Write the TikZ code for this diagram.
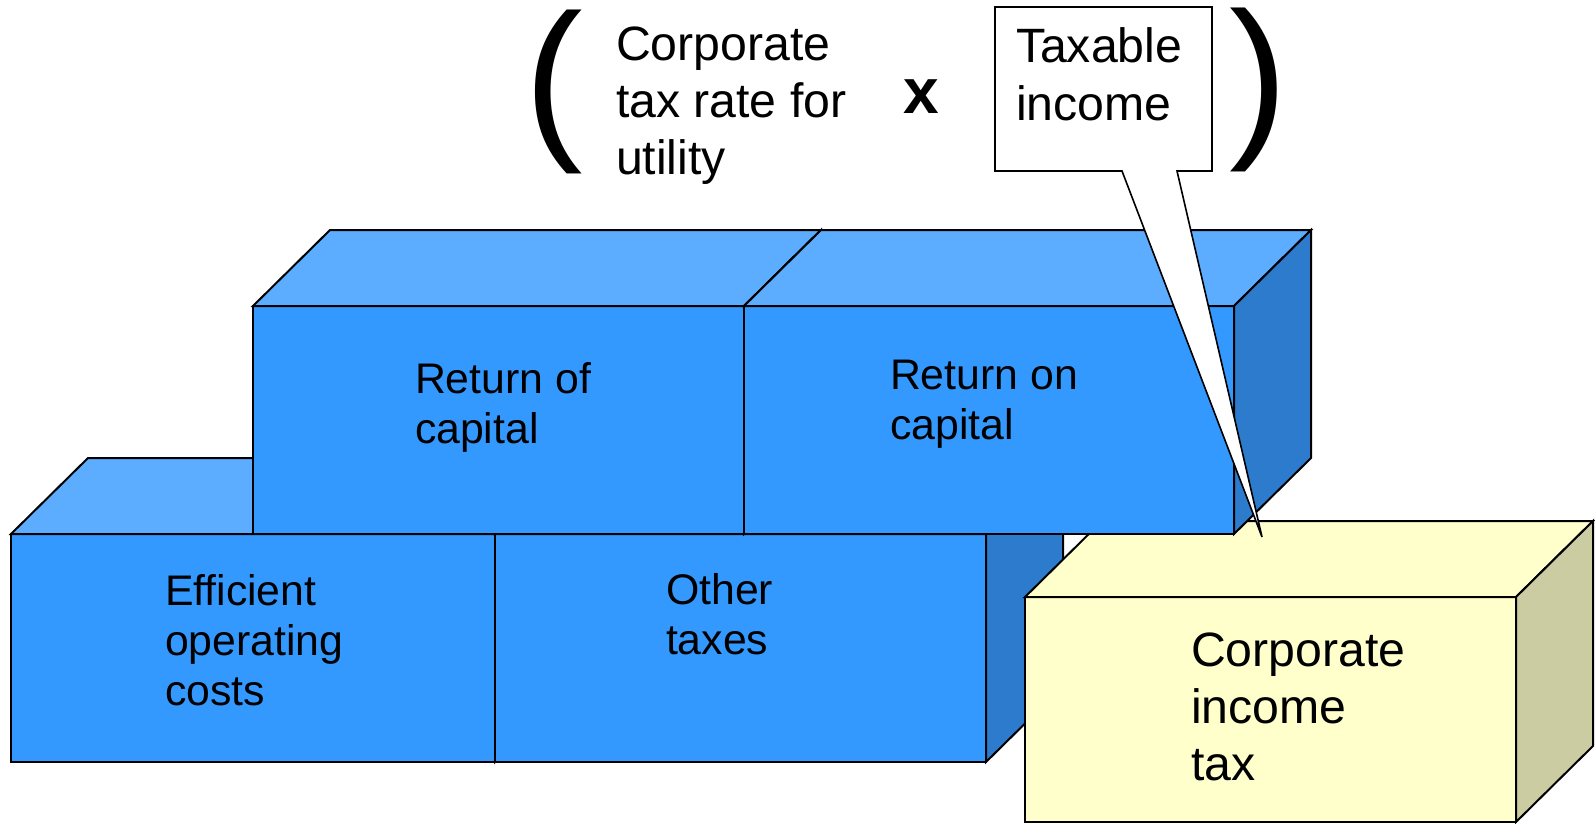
\documentclass[tikz,border=0pt]{standalone}
\usepackage{fontspec}
\setmainfont{Liberation Sans}

\definecolor{brickfront}{HTML}{3399FF}
\definecolor{bricktop}{HTML}{5CACFF}
\definecolor{brickside}{HTML}{2C7BCC}
\definecolor{taxfront}{HTML}{FFFFCC}
\definecolor{taxside}{HTML}{CCCCA3}

\tikzset{
	face/.style={draw=black, line width=1pt, line join=miter},
	bricktext/.style={anchor=base west, inner sep=0pt, outer sep=0pt, align=left, font=\fontsize{21.4}{25}\selectfont},
	bigtext/.style={anchor=base west, inner sep=0pt, outer sep=0pt, align=left, font=\fontsize{24.1}{28.5}\selectfont},
}

% brick: front top-left (#1,#2), width #3, height #4, colours front/top/side
\newcommand{\brick}[7]{%
	\filldraw[face, fill=#5] (#1,#2) rectangle ++(#3,#4);
	\filldraw[face, fill=#6] (#1,#2) -- ++(77,-76) -- ++(#3,0) -- ++(-77,76) -- cycle;
	\filldraw[face, fill=#7] (#1+#3,#2) -- ++(77,-76) -- ++(0,#4) -- ++(-77,76) -- cycle;
}

\begin{document}
\begin{tikzpicture}[x=0.5pt, y=-0.5pt]
	\useasboundingbox (0,0) rectangle (1595,824);
	
	% 1. 下层两块砖
	\brick{11}{534}{484}{228}{brickfront}{bricktop}{brickside}
	\brick{495}{534}{491}{228}{brickfront}{bricktop}{brickside}
	
	% 2. 黄色的砖 (所得税)
	\brick{1025}{597}{491}{225}{taxfront}{taxfront}{taxside}
	
	% 3. 上层两块砖
	\brick{253}{306}{491}{228}{brickfront}{bricktop}{brickside}
	\brick{744}{306}{490}{228}{brickfront}{bricktop}{brickside}
	
	% 4. 砖上的文字 (坐标取最后一行的基线)
	\node[bricktext] (eoc) at (165,705) {Efficient\\operating\\costs};
	\node[bricktext] (other) at (666,654) {Other\\taxes};
	\node[bricktext] (roc) at (415,443) {Return of\\capital};
	\node[bricktext] (ron) at (890,439) {Return on\\capital};
	\node[bigtext] (cit) at (1191,780) {Corporate\\income\\tax};
	
	% 5. 上方的公式
	\node[anchor=base west, inner sep=0pt, outer sep=0pt, font=\fontsize{88}{88}\selectfont] (lparen) at (524,138) {(};
	\node[bigtext] (rate) at (616,175) {Corporate\\tax rate for\\utility};
	\node[anchor=base west, inner sep=0pt, outer sep=0pt, font=\bfseries\fontsize{32}{32}\selectfont] (times) at (903,113) {x};
	\node[anchor=base west, inner sep=0pt, outer sep=0pt, font=\fontsize{88}{88}\selectfont] (rparen) at (1229,135) {)};
	
	% 6. 标注框 "Taxable income"，尖端指向黄色砖
	\coordinate (tip) at (1262,537);
	\filldraw[face, line width=0.8pt, fill=white] (995,7) -- (1212,7) -- (1212,171) -- (1177,171)
		-- (tip) -- (1122,171) -- (995,171) -- cycle;
	\node[bigtext] (taxable) at (1016,120) {Taxable\\income};
	
\end{tikzpicture}
\end{document}
